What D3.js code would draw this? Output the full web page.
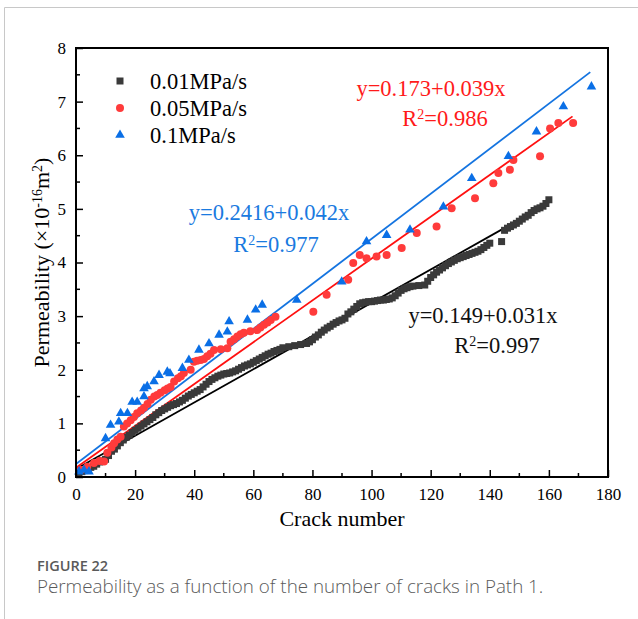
<!DOCTYPE html>
<html>
<head>
<meta charset="utf-8">
<script src="https://cdn.jsdelivr.net/npm/d3@7"></script>
<style>
  body { margin: 0; background: #fff; }
  svg { display: block; }
</style>
</head>
<body>
<svg id="chart" width="638" height="619"></svg>
<script>
// black squares, 0.01MPa/s: [crack number, permeability]
var slow = [
  [1,0.08],[2,0.1],[3,0.12],[4,0.15],[5,0.18],[6,0.2],[7,0.24],[8,0.28],[9,0.3],[10,0.33],
  [11,0.4],[12,0.48],[13,0.52],[14,0.58],[15,0.64],[16,0.69],[17,0.74],[18,0.78],[19,0.83],[20,0.87],
  [21,0.91],[22,0.95],[23,0.99],[24,1.03],[25,1.07],[26,1.11],[27,1.16],[28,1.2],[29,1.24],[30,1.27],
  [31,1.3],[32,1.33],[33,1.35],[34,1.37],[35,1.4],[36,1.43],[37,1.47],[38,1.51],[39,1.54],[40,1.57],
  [41,1.6],[42,1.63],[43,1.68],[44,1.73],[45,1.78],[46,1.82],[47,1.85],[48,1.88],[49,1.9],[50,1.92],
  [51,1.93],[52,1.94],[53,1.96],[54,1.98],[55,2.01],[56,2.04],[57,2.07],[58,2.09],[59,2.11],[60,2.14],
  [61,2.17],[62,2.2],[63,2.23],[64,2.26],[65,2.29],[66,2.31],[67,2.34],[68,2.36],[69,2.38],[70,2.41],
  [72,2.43],[74,2.45],[76,2.47],[78,2.49],[79,2.52],[80,2.56],[81,2.61],[82,2.65],[83,2.7],[84,2.74],
  [85,2.78],[86,2.81],[87,2.85],[88,2.88],[89,2.91],[90,2.93],[91,2.96],[92,3.04],[93,3.08],[94,3.13],
  [95,3.18],[96,3.23],[97,3.25],[98,3.26],[99,3.27],[100,3.27],[101,3.28],[102,3.29],[103,3.3],[104,3.3],
  [105,3.31],[106,3.32],[107,3.34],[108,3.38],[109,3.43],[110,3.48],[111,3.51],[112,3.53],[113,3.55],[114,3.56],
  [116,3.57],[118,3.58],[119,3.65],[120,3.72],[121,3.77],[122,3.82],[123,3.86],[124,3.9],[125,3.94],[126,3.98],
  [127,4.01],[128,4.04],[129,4.07],[130,4.09],[131,4.11],[132,4.13],[133,4.15],[134,4.17],[135,4.19],[136,4.21],
  [137,4.24],[138,4.28],[139,4.32],[140,4.36],[144,4.39],[145,4.6],[146,4.64],[147,4.67],[148,4.7],[149,4.73],
  [150,4.77],[151,4.81],[152,4.85],[153,4.88],[154,4.93],[155,4.97],[156,5.0],[157,5.02],[158,5.05],[159,5.1],
  [160,5.17]
];

// red circles, 0.05MPa/s
var mid = [
  [1.6,0.13],[3.8,0.19],[6.1,0.26],[8,0.3],[9.5,0.29],[10.6,0.45],[12,0.55],[12.9,0.63],[14,0.7],[15.1,0.75],
  [16.2,0.94],[17.3,1.0],[18.5,1.06],[19.6,1.12],[20.7,1.19],[22,1.24],[23,1.29],[24.2,1.36],[25.3,1.44],[26.5,1.5],
  [27.5,1.53],[28.6,1.57],[30,1.62],[31,1.65],[32,1.68],[33.2,1.78],[34.5,1.84],[35.5,1.88],[36.5,1.94],[38.8,2.0],
  [39.9,2.15],[41,2.17],[42.2,2.18],[43.3,2.2],[44.4,2.25],[45.5,2.3],[46.7,2.37],[49,2.38],[51.2,2.4],[52.3,2.52],
  [53.5,2.57],[54.6,2.62],[55.7,2.66],[56.8,2.69],[59,2.72],[61.3,2.74],[62.4,2.79],[63.6,2.84],[64.8,2.88],[65.9,2.93],
  [67.5,2.99],
  [80.3,3.08],[84.8,3.4],[92.1,3.68],[93.8,3.99],[96,4.14],[98.3,4.08],[101.7,4.11],[105.1,4.14],[110.2,4.27],[115.3,4.55],
  [122,4.67],[127.1,5.01],[135,5.2],[141.2,5.48],[142.9,5.67],[146.8,5.73],[148,5.91],[157,5.98],[160.4,6.5],[163.2,6.6],
  [168.2,6.6]
];

// blue triangles, 0.1MPa/s
var fast = [
  [1,0.1],[2.7,0.13],[4.4,0.1],[10,0.72],[11.7,0.97],[14.5,1.03],[15.1,1.19],[17.4,1.19],[19,1.4],[20.7,1.4],
  [23,1.5],[23,1.65],[24.1,1.69],[26.4,1.78],[28.1,1.9],[30.9,1.96],[31.8,1.93],[36,2.03],[38.2,2.18],[41.6,2.37],
  [45,2.49],[48.4,2.65],[51.2,2.71],[51.8,2.9],[58,2.93],[60.8,3.12],[63,3.21],
  [74.7,3.3],[89.9,3.64],[98.3,4.39],[105.1,4.51],[113,4.61],[124.3,5.04],[133.9,5.57],[146.3,5.98],[155.8,6.44],
  [164.9,6.91],[174.4,7.28]
];

var seriesNames = ["0.01MPa/s", "0.05MPa/s", "0.1MPa/s"];
// linear fits: [intercept, slope, last x]
var fits = [[0.149, 0.031, 160], [0.173, 0.039, 168], [0.2416, 0.042, 174]];
var fitText = [["y=0.149+0.031x", "0.997"], ["y=0.173+0.039x", "0.986"], ["y=0.2416+0.042x", "0.977"]];
var xTicks = [0, 20, 40, 60, 80, 100, 120, 140, 160, 180];
var yTicks = [0, 1, 2, 3, 4, 5, 6, 7, 8];

var markColor = ["#3a3a3a", "#ff3b3b", "#0a6fe6"];
var lineColor = ["#000000", "#ff1010", "#1474e0"];
var textColor = ["#111111", "#ff1a1a", "#1a7ae0"];
var serif = "'Liberation Serif', 'Times New Roman', serif";

var svg = d3.select("#chart");

// card border
svg.append("path")
  .attr("d", "M4.5,619 L4.5,7.5 L638,7.5")
  .attr("fill", "none").attr("stroke", "#c8c8c8").attr("stroke-width", 1);

var pl = 76, pt = 48, pr = 608, pb = 477;
var x = d3.scaleLinear().domain([0, 180]).range([pl, pr]);
var y = d3.scaleLinear().domain([0, 8]).range([pb, pt]);

var g = svg.append("g");

// fit lines
fits.forEach(function (f, i) {
  g.append("line")
    .attr("x1", x(0)).attr("y1", y(f[0]))
    .attr("x2", x(f[2])).attr("y2", y(f[0] + f[1] * f[2]))
    .attr("stroke", lineColor[i]).attr("stroke-width", 1.8);
});

// points
g.selectAll(".sq").data(slow).enter().append("rect")
  .attr("x", function (d) { return x(d[0]) - 3.5; })
  .attr("y", function (d) { return y(d[1]) - 3.5; })
  .attr("width", 7).attr("height", 7)
  .attr("fill", markColor[0]);

g.selectAll(".ci").data(mid).enter().append("circle")
  .attr("cx", function (d) { return x(d[0]); })
  .attr("cy", function (d) { return y(d[1]); })
  .attr("r", 4)
  .attr("fill", markColor[1]);

var tri = d3.symbol().type(d3.symbolTriangle).size(40);
g.selectAll(".tr").data(fast).enter().append("path")
  .attr("d", tri)
  .attr("transform", function (d) { return "translate(" + x(d[0]) + "," + y(d[1]) + ")"; })
  .attr("fill", markColor[2]);

// axes with inward ticks
var xAxis = d3.axisBottom(x).tickValues(xTicks).tickSize(-7).tickPadding(11);
var yAxis = d3.axisLeft(y).tickValues(yTicks).tickSize(-7).tickPadding(10);

var gx = g.append("g").attr("transform", "translate(0," + pb + ")").call(xAxis);
var gy = g.append("g").attr("transform", "translate(" + pl + ",0)").call(yAxis);
[gx, gy].forEach(function (a) {
  a.select(".domain").remove();
  a.selectAll("line").attr("stroke", "#000").attr("stroke-width", 1.5);
  a.selectAll("text").attr("font-family", serif).attr("font-size", 17).attr("fill", "#000");
});

// minor ticks
g.selectAll(".mx").data(d3.range(10, 180, 20)).enter().append("line")
  .attr("x1", function (d) { return x(d); }).attr("x2", function (d) { return x(d); })
  .attr("y1", pb).attr("y2", pb - 4)
  .attr("stroke", "#000").attr("stroke-width", 1.5);
g.selectAll(".my").data(d3.range(0.5, 8, 1)).enter().append("line")
  .attr("y1", function (d) { return y(d); }).attr("y2", function (d) { return y(d); })
  .attr("x1", pl).attr("x2", pl + 4)
  .attr("stroke", "#000").attr("stroke-width", 1.5);

// frame
g.append("rect")
  .attr("x", pl).attr("y", pt)
  .attr("width", pr - pl).attr("height", pb - pt)
  .attr("fill", "none").attr("stroke", "#000").attr("stroke-width", 2);

// axis titles
svg.append("text")
  .attr("x", (pl + pr) / 2).attr("y", 526)
  .attr("text-anchor", "middle")
  .attr("font-family", serif).attr("font-size", 22)
  .text("Crack number");

var yl = svg.append("text")
  .attr("transform", "translate(49," + ((pt + pb) / 2) + ") rotate(-90)")
  .attr("text-anchor", "middle")
  .attr("font-family", serif).attr("font-size", 22);
yl.append("tspan").text("Permeability (\u00d710");
yl.append("tspan").attr("baseline-shift", "super").attr("font-size", 14).text("-16");
yl.append("tspan").text("m");
yl.append("tspan").attr("baseline-shift", "super").attr("font-size", 14).text("2");
yl.append("tspan").text(")");

// legend
var legY = [81, 108, 135];
var lg = svg.append("g");
lg.append("rect").attr("x", 120 - 3.5).attr("y", legY[0] - 3.5).attr("width", 7).attr("height", 7).attr("fill", markColor[0]);
lg.append("circle").attr("cx", 120).attr("cy", legY[1]).attr("r", 4).attr("fill", markColor[1]);
lg.append("path").attr("d", tri).attr("transform", "translate(120," + legY[2] + ")").attr("fill", markColor[2]);
seriesNames.forEach(function (s, i) {
  lg.append("text")
    .attr("x", 150).attr("y", legY[i] + 7.5)
    .attr("font-family", serif).attr("font-size", 22.5)
    .text(s);
});

// fit equations
var eqPos = [[483, 323, 497, 353], [431, 96, 445, 126], [269, 220, 276, 252]];
fitText.forEach(function (t, i) {
  var p = eqPos[i];
  svg.append("text")
    .attr("x", p[0]).attr("y", p[1]).attr("text-anchor", "middle")
    .attr("font-family", serif).attr("font-size", 22.5).attr("fill", textColor[i])
    .text(t[0]);
  var r = svg.append("text")
    .attr("x", p[2]).attr("y", p[3]).attr("text-anchor", "middle")
    .attr("font-family", serif).attr("font-size", 22.5).attr("fill", textColor[i]);
  r.append("tspan").text("R");
  r.append("tspan").attr("baseline-shift", "super").attr("font-size", 14).text("2");
  r.append("tspan").text("=" + t[1]);
});

// caption
svg.append("text")
  .attr("x", 37).attr("y", 571)
  .attr("font-family", "'Open Sans', sans-serif").attr("font-size", 14.5)
  .attr("font-weight", 600).attr("fill", "#5a5a5a")
  .text("FIGURE 22");
svg.append("text")
  .attr("x", 37).attr("y", 593)
  .attr("font-family", "'Open Sans', sans-serif").attr("font-size", 18.8)
  .attr("font-weight", 300).attr("fill", "#5a5a5a")
  .text("Permeability as a function of the number of cracks in Path 1.");
</script>
</body>
</html>
